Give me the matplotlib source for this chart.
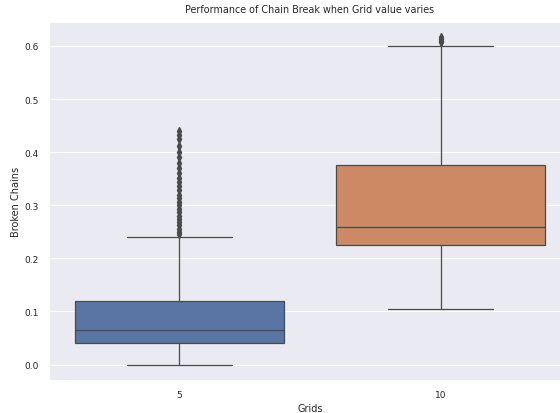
"""Boxplot of broken chains for two grid values."""

import matplotlib
matplotlib.use('Agg')
import matplotlib.pyplot as plt
import seaborn as sns

grids = ['5', '10']
q1 = [0.041, 0.226]
medians = [0.066, 0.259]
q3 = [0.120, 0.376]
whisker_low = [0.0, 0.105]
whisker_high = [0.241, 0.600]
fliers_5 = [0.245, 0.250, 0.255, 0.262, 0.268, 0.274, 0.280, 0.287, 0.293,
            0.300, 0.306, 0.313, 0.320, 0.328, 0.336, 0.344, 0.352, 0.360,
            0.370, 0.380, 0.390, 0.400, 0.412, 0.424, 0.432, 0.440]
fliers_10 = [0.607, 0.610, 0.613, 0.617]
colors = ['#5975a4', '#cc8963']

sns.set_style('darkgrid')

fig = plt.figure(figsize=(5.6, 4.14), dpi=100)
ax = fig.add_axes([48.5 / 560, 33 / 414, 523 / 560, 358 / 414])

stats = []
for i, name in enumerate(grids):
    stats.append({'label': name, 'q1': q1[i], 'med': medians[i], 'q3': q3[i],
                  'whislo': whisker_low[i], 'whishi': whisker_high[i],
                  'fliers': [fliers_5, fliers_10][i]})

line_color = '#4a4a4a'
lw = 0.9
bp = ax.bxp(stats, positions=range(len(grids)), widths=0.8,
            patch_artist=True,
            boxprops=dict(edgecolor=line_color, linewidth=lw),
            medianprops=dict(color=line_color, linewidth=lw),
            whiskerprops=dict(color=line_color, linewidth=lw),
            capprops=dict(color=line_color, linewidth=lw),
            flierprops=dict(marker='d', markersize=3.6, markerfacecolor=line_color,
                            markeredgecolor=line_color))
for patch, c in zip(bp['boxes'], colors):
    patch.set_facecolor(c)

ax.set_xlim(-0.5, 1.5)
ax.set_ylim(-0.029, 0.645)
ax.set_xticks(range(len(grids)))
ax.set_xticklabels(grids)
ax.grid(False, axis='x')
ax.tick_params(labelsize=6.5, colors='#262626')
ax.set_xlabel('Grids', fontsize=7, labelpad=3)
ax.set_ylabel('Broken Chains', fontsize=7, labelpad=2.5)
ax.set_title('Performance of Chain Break when Grid value varies', fontsize=6.9,
             pad=7)

fig.savefig('out.png', dpi=100)
